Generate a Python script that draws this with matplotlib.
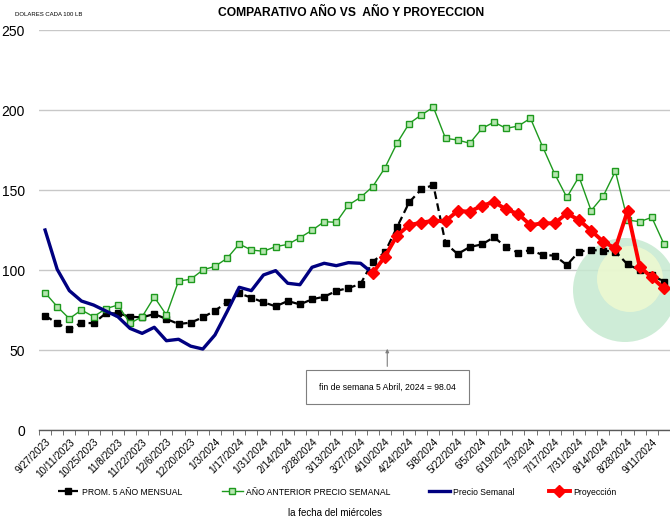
import numpy as np
import matplotlib
matplotlib.use("Agg")
import matplotlib.pyplot as plt
from matplotlib.patches import Circle
from matplotlib import rcParams

rcParams["font.family"] = ["Liberation Sans", "DejaVu Sans"]

# weekly categories (wednesday), labels every two weeks
tick_labels = ["9/27/2023", "10/11/2023", "10/25/2023", "11/8/2023", "11/22/2023",
               "12/6/2023", "12/20/2023", "1/3/2024", "1/17/2024", "1/31/2024",
               "2/14/2024", "2/28/2024", "3/13/2024", "3/27/2024", "4/10/2024",
               "4/24/2024", "5/8/2024", "5/22/2024", "6/5/2024", "6/19/2024",
               "7/3/2024", "7/17/2024", "7/31/2024", "8/14/2024", "8/28/2024",
               "9/11/2024"]
n_weeks = 52

prom_5 = [71.5, 66.7, 62.9, 67.1, 66.7, 72.9, 72.9, 70.8, 70.4, 72.5,
          69.4, 66.25, 67.1, 70.4, 74.6, 79.8, 85.4, 82.7, 79.8, 77.3,
          80.6, 78.5, 81.7, 83.3, 86.9, 88.75, 91.25, 105.2, 111, 126.7,
          142.3, 150.4, 153.1, 116.7, 110, 114.4, 116, 120.5, 114.2, 110.8,
          112.5, 109.4, 109, 103.1, 111.5, 112.5, 112.1, 111.5, 103.5, 100,
          96.9, 92.7]

anio_anterior = [85.8, 77.1, 69.6, 75, 70.8, 75.8, 78.1, 66.7, 70.8, 83.1,
                 71.9, 93.1, 94.2, 100, 102.3, 107.3, 116.25, 112.5, 111.7, 114.6,
                 116, 120.2, 124.8, 130.2, 129.8, 140.6, 145.4, 152.1, 163.75, 179.2,
                 191.5, 196.9, 201.7, 182.3, 181.25, 179.2, 188.5, 192.4, 188.5, 190,
                 194.8, 177.1, 160, 145.4, 158.3, 137.1, 146.25, 161.7, 131.25, 130.2,
                 132.9, 116.25]

precio_semanal = [125, 100.4, 87.1, 80.6, 78.1, 74.4, 70.8, 63.5, 60.4, 64.2,
                  55.8, 56.7, 52.4, 50.6, 59.4, 74, 89.2, 87.1, 96.9, 99.6,
                  91.7, 90.8, 101.7, 104.2, 102.7, 104.6, 104.2, 98.04]

proyeccion = [98.04, 108.3, 121.5, 128.1, 129.6, 130.8, 130.6, 136.9, 136.5, 140.2,
              142.5, 137.9, 135, 128.1, 129.2, 129.2, 135.4, 131.25, 124.6, 117.7,
              113.5, 136.9, 102.1, 95.4, 88.5]
proy_start = len(precio_semanal) - 1

x_all = np.arange(n_weeks)
x_precio = np.arange(len(precio_semanal))
x_proy = np.arange(proy_start, proy_start + len(proyeccion))

fig = plt.figure(figsize=(6.70, 5.19), dpi=100)
ax = fig.add_axes([39 / 670, 89 / 519, 631 / 670, 400 / 519])

# watermark globe (behind the lines)
ax.add_patch(Circle((6.25, 2.29), 0.52, transform=fig.dpi_scale_trans,
                    facecolor="#c6e9d0", edgecolor="none", alpha=0.85, zorder=1, clip_on=False))
ax.add_patch(Circle((6.30, 2.40), 0.33, transform=fig.dpi_scale_trans,
                    facecolor="#eef9d0", edgecolor="none", alpha=0.85, zorder=1, clip_on=False))

ax.plot(x_all, prom_5, color="black", linestyle=(0, (3.5, 2)), linewidth=1.6,
        marker="s", markersize=4.5, markerfacecolor="black", markeredgecolor="black",
        label="PROM. 5 AÑO MENSUAL", zorder=3)
ax.plot(x_all, anio_anterior, color="#1e9a1e", linewidth=1.0,
        marker="s", markersize=5, markerfacecolor="#b6e6b0", markeredgecolor="#1e9a1e",
        markeredgewidth=1.0, label="AÑO ANTERIOR PRECIO SEMANAL", zorder=3)
ax.plot(x_precio, precio_semanal, color="#000080", linewidth=2.4,
        label="Precio Semanal", zorder=4)
ax.plot(x_proy, proyeccion, color="#ff0000", linewidth=2.8,
        marker="D", markersize=6, markerfacecolor="#ff0000", markeredgecolor="#ff0000",
        label="Proyección", zorder=5)

ax.set_xlim(-0.5, 51.0)
ax.set_ylim(0, 250)
ax.set_yticks([0, 50, 100, 150, 200, 250])
ax.yaxis.grid(True, color="#c8c8c8", linewidth=1.0, zorder=0)
ax.set_axisbelow(True)
for s in ["top", "right", "left"]:
    ax.spines[s].set_visible(False)
ax.spines["bottom"].set_color("#595959")
ax.spines["bottom"].set_linewidth(1.0)
ax.tick_params(axis="y", length=0, labelsize=10, pad=10)

ax.set_xticks(np.arange(0, n_weeks, 2))
ax.set_xticklabels(tick_labels, rotation=45, ha="right", rotation_mode="anchor", fontsize=7.2)
ax.set_xticks(np.arange(-0.5, n_weeks, 1), minor=True)
ax.tick_params(axis="x", which="major", length=0, pad=5)
ax.tick_params(axis="x", which="minor", length=3.5, color="#595959", direction="out")

ax.annotate("fin de semana 5 Abril, 2024 = 98.04", xy=(28.2, 52.5), xytext=(28.2, 26.9),
            ha="center", va="center", fontsize=6.2,
            bbox=dict(boxstyle="square,pad=1.5", facecolor="white", edgecolor="#7f7f7f", linewidth=0.8),
            arrowprops=dict(arrowstyle="-|>", color="#7f7f7f", linewidth=0.8, mutation_scale=5),
            zorder=6)

fig.text(0.524, 0.975, "COMPARATIVO AÑO VS  AÑO Y PROYECCION", ha="center", va="center",
         fontsize=8.7, fontweight="bold")
fig.text(0.022, 0.973, "DOLARES CADA 100 LB", ha="left", va="center", fontsize=4.3)

# legend entries placed one by one, like the spread-out Excel legend
handles, labels = ax.get_legend_handles_labels()
legend_x = [58, 222, 429, 549]
for h, lab, px in zip(handles, labels, legend_x):
    fig.legend([h], [lab], loc="center left", bbox_to_anchor=(px / 670, 0.052),
               frameon=False, fontsize=6.2, handlelength=2.4, handletextpad=0.4,
               borderpad=0, borderaxespad=0, numpoints=1)

fig.text(0.5, 0.002, "la fecha del miércoles", ha="center", va="bottom", fontsize=7)

fig.savefig("out.png", dpi=100)
print("Saved to out.png")
